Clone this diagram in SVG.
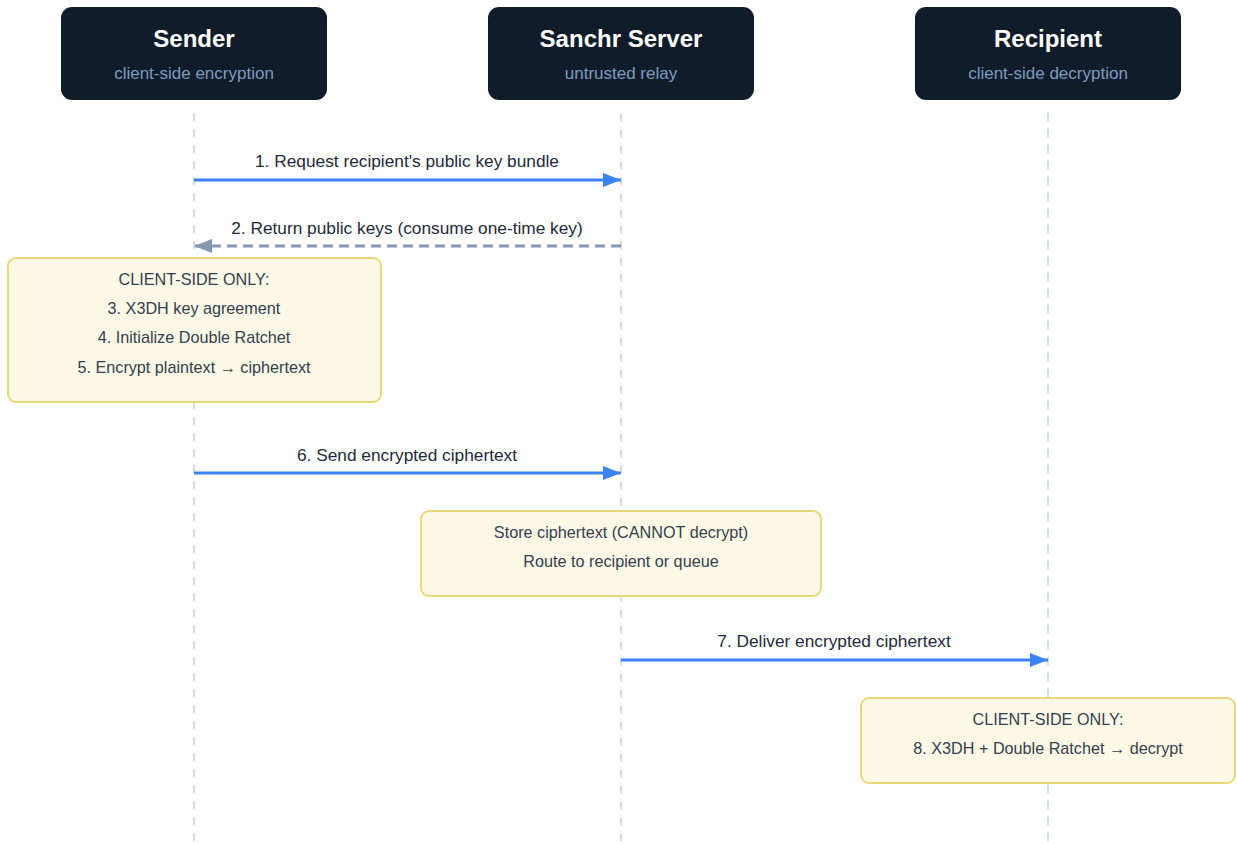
<svg xmlns="http://www.w3.org/2000/svg" width="1237" height="844" viewBox="0 0 1237 844">
<style>
.actor{fill:#111c2b;}
.title{font-family:"Liberation Sans",Arial,sans-serif;font-size:24px;font-weight:bold;fill:#ffffff;text-anchor:middle;}
.sub{font-family:"Liberation Sans",Arial,sans-serif;font-size:17px;fill:#7d9bbd;text-anchor:middle;}
.life{stroke:#d3dae3;stroke-width:2;stroke-dasharray:8 8;fill:none;}
.msg{stroke:#3b82f6;stroke-width:3;fill:none;}
.ret{stroke:#8798ac;stroke-width:3;stroke-dasharray:10 6;fill:none;}
.lbl{font-family:"Liberation Sans",Arial,sans-serif;font-size:17.3px;fill:#1e2a3a;text-anchor:middle;}
.note{fill:#fef9e6;stroke:#e9d87a;stroke-width:2;}
.nt{font-family:"Liberation Sans",Arial,sans-serif;font-size:16.2px;fill:#33404f;text-anchor:middle;}
</style>
<defs>
<marker id="ab" markerWidth="18" markerHeight="14" refX="18" refY="7" orient="auto" markerUnits="userSpaceOnUse"><path d="M0,0 L18,7 L0,14 Z" fill="#3b82f6"/></marker>
<marker id="ag" markerWidth="18" markerHeight="14" refX="18" refY="7" orient="auto" markerUnits="userSpaceOnUse"><path d="M0,0 L18,7 L0,14 Z" fill="#8798ac"/></marker>
</defs>
<rect width="1237" height="844" fill="#ffffff"/>
<g id="lifelines">
<line class="life" x1="194" y1="113" x2="194" y2="844"/>
<line class="life" x1="621" y1="113" x2="621" y2="844"/>
<line class="life" x1="1048" y1="113" x2="1048" y2="844"/>
</g>
<g id="sender">
<rect class="actor" x="61" y="7" width="266" height="93" rx="11"/>
<text class="title" x="194" y="47">Sender</text>
<text class="sub" x="194" y="79">client-side encryption</text>
</g>
<g id="server">
<rect class="actor" x="488" y="7" width="266" height="93" rx="11"/>
<text class="title" x="621" y="47">Sanchr Server</text>
<text class="sub" x="621" y="79">untrusted relay</text>
</g>
<g id="recipient">
<rect class="actor" x="915" y="7" width="266" height="93" rx="11"/>
<text class="title" x="1048" y="47">Recipient</text>
<text class="sub" x="1048" y="79">client-side decryption</text>
</g>
<g id="connectors">
<line class="msg" x1="194" y1="180" x2="621" y2="180" marker-end="url(#ab)"/>
<text class="lbl" x="407" y="167">1. Request recipient's public key bundle</text>
<line class="ret" x1="621" y1="246" x2="194" y2="246" marker-end="url(#ag)"/>
<text class="lbl" x="407" y="234">2. Return public keys (consume one-time key)</text>
<line class="msg" x1="194" y1="473" x2="621" y2="473" marker-end="url(#ab)"/>
<text class="lbl" x="407" y="461">6. Send encrypted ciphertext</text>
<line class="msg" x1="621" y1="660" x2="1048" y2="660" marker-end="url(#ab)"/>
<text class="lbl" x="834" y="647">7. Deliver encrypted ciphertext</text>
</g>
<g id="note-sender">
<rect class="note" x="8" y="258" width="373" height="144" rx="8"/>
<text class="nt" x="194" y="285">CLIENT-SIDE ONLY:</text>
<text class="nt" x="194" y="314">3. X3DH key agreement</text>
<text class="nt" x="194" y="343">4. Initialize Double Ratchet</text>
<text class="nt" x="194" y="373">5. Encrypt plaintext → ciphertext</text>
</g>
<g id="note-server">
<rect class="note" x="421" y="511" width="400" height="85" rx="8"/>
<text class="nt" x="621" y="538">Store ciphertext (CANNOT decrypt)</text>
<text class="nt" x="621" y="567">Route to recipient or queue</text>
</g>
<g id="note-recipient">
<rect class="note" x="861" y="698" width="374" height="85" rx="8"/>
<text class="nt" x="1048" y="725">CLIENT-SIDE ONLY:</text>
<text class="nt" x="1048" y="754">8. X3DH + Double Ratchet → decrypt</text>
</g>
</svg>
